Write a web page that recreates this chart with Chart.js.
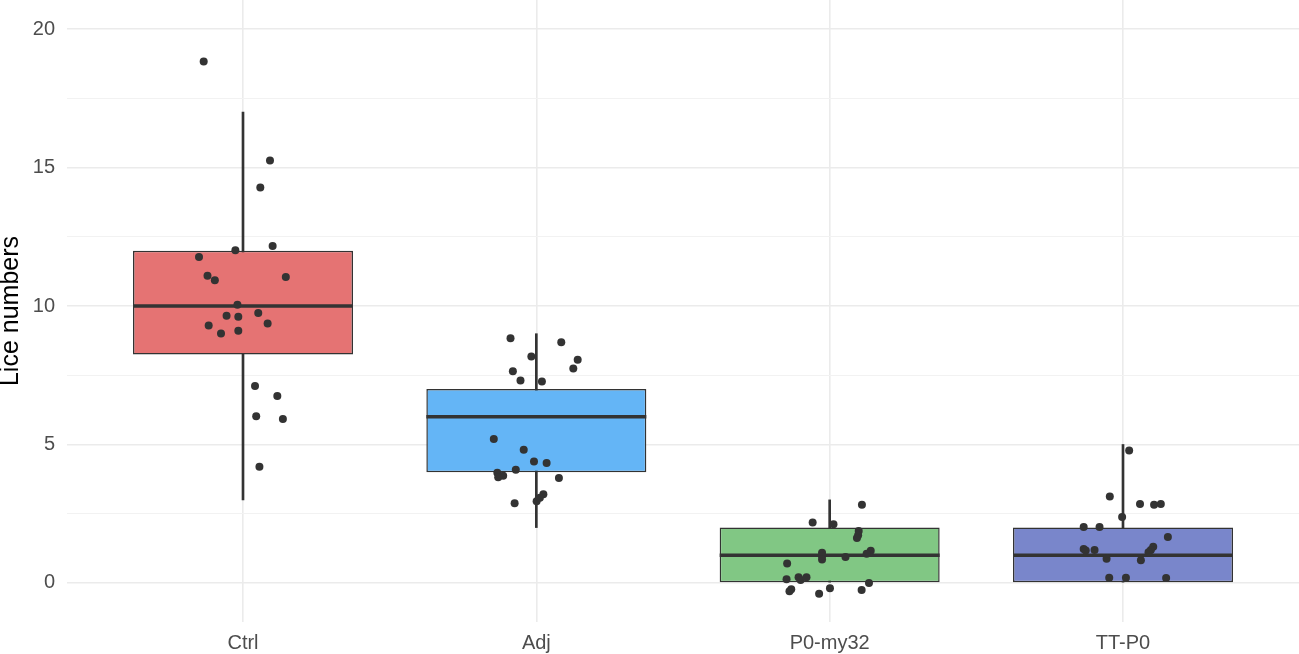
<!DOCTYPE html>
<html>
<head>
<meta charset="utf-8">
<script src="https://cdn.jsdelivr.net/npm/chart.js@4.4.1/dist/chart.umd.min.js"></script>
<style>
  html, body { margin: 0; padding: 0; background: #ffffff; }
  #wrap { width: 1299px; height: 654px; }
</style>
</head>
<body>
<div id="wrap"><canvas id="c" width="1299" height="654"></canvas></div>
<script>
// ---- Data ----
const categories = ['Ctrl', 'Adj', 'P0-my32', 'TT-P0'];
const whiskerLow = [3, 2, 0, 0];
const q1 = [8.25, 4, 0, 0];
const medians = [10, 6, 1, 1];
const q3 = [12, 7, 2, 2];
const whiskerHigh = [17, 9, 3, 5];
const boxColors = ['#E57373', '#64B5F6', '#81C784', '#7986CB'];
const yTickValues = [0, 2.5, 5, 7.5, 10, 12.5, 15, 17.5, 20];
const yTickLabels = ['0', '', '5', '', '10', '', '15', '', '20'];

// jittered observations: values and horizontal jitter offsets
const ctrlValues = [18.83, 15.25, 14.28, 12.17, 12.01, 11.77, 11.09, 10.93, 11.05, 10.05, 9.65, 9.61, 9.75, 9.30, 9.37, 9.01, 9.11, 7.11, 6.75, 6.02, 5.92, 4.20];
const ctrlJitter = [-0.134, 0.092, 0.059, 0.101, -0.026, -0.150, -0.121, -0.096, 0.146, -0.019, -0.056, -0.016, 0.052, -0.117, 0.084, -0.075, -0.016, 0.041, 0.117, 0.045, 0.136, 0.056];
const adjValues = [8.84, 8.69, 8.18, 8.06, 7.74, 7.64, 7.31, 7.27, 5.20, 4.81, 4.39, 4.33, 4.09, 3.98, 3.87, 3.82, 3.79, 3.20, 2.95, 3.08, 2.88];
const adjJitter = [-0.088, 0.085, -0.017, 0.141, 0.126, -0.080, -0.054, 0.019, -0.145, -0.043, -0.008, 0.035, -0.070, -0.133, -0.113, -0.130, 0.077, 0.024, 0.001, 0.012, -0.074];
const p0Values = [2.82, 2.18, 2.12, 1.88, 1.72, 1.62, 1.09, 0.97, 0.85, 0.94, 1.16, 1.05, 0.70, 0.13, 0.21, 0.11, 0.21, 0.00, -0.23, -0.30, -0.19, -0.39, -0.25];
const p0Jitter = [0.110, -0.058, 0.013, 0.099, 0.097, 0.093, -0.026, -0.026, -0.026, 0.054, 0.140, 0.126, -0.145, -0.147, -0.106, -0.099, -0.079, 0.134, -0.131, -0.137, 0.001, -0.036, 0.109];
const ttValues = [4.78, 3.12, 2.85, 2.82, 2.85, 2.38, 2.02, 2.02, 1.66, 1.23, 1.17, 1.19, 1.31, 1.19, 1.11, 0.87, 0.82, 0.19, 0.19, 0.18];
const ttJitter = [0.021, -0.045, 0.058, 0.106, 0.129, -0.003, -0.134, -0.080, 0.153, -0.134, -0.127, -0.097, 0.103, 0.095, 0.087, -0.056, 0.061, -0.047, 0.010, 0.147];

const groupValues = [ctrlValues, adjValues, p0Values, ttValues];
const groupJitter = [ctrlJitter, adjJitter, p0Jitter, ttJitter];

// ---- Build datasets ----
const BOX_WIDTH = 0.75;
const whiskerData = categories.map((c, i) => ({ x: i + 1, y: [whiskerLow[i], whiskerHigh[i]] }));
const boxData = categories.map((c, i) => ({ x: i + 1, y: [q1[i], q3[i]] }));
const medianData = [];
categories.forEach((c, i) => {
  medianData.push({ x: i + 1 - BOX_WIDTH / 2, y: medians[i] });
  medianData.push({ x: i + 1 + BOX_WIDTH / 2, y: medians[i] });
  medianData.push({ x: i + 1.5, y: null });
});
const pointData = [];
groupValues.forEach((vals, i) => {
  vals.forEach((v, k) => pointData.push({ x: i + 1 + groupJitter[i][k], y: v }));
});

const FONT = "'Liberation Sans', Arial, Helvetica, sans-serif";

function noPad(s) { s.paddingTop = 0; s.paddingBottom = 0; s.paddingLeft = 0; s.paddingRight = 0; }

new Chart(document.getElementById('c'), {
  type: 'bar',
  data: {
    datasets: [
      {
        type: 'bar', data: whiskerData, grouped: false, order: 4,
        barThickness: 2, backgroundColor: '#333333', borderWidth: 0
      },
      {
        type: 'bar', data: boxData, grouped: false, order: 3,
        barPercentage: BOX_WIDTH, categoryPercentage: 1,
        backgroundColor: boxColors, borderColor: '#333333', borderWidth: 1.5,
        borderSkipped: false
      },
      {
        type: 'line', data: medianData, order: 2,
        borderColor: '#333333', borderWidth: 3.5, pointRadius: 0, spanGaps: false,
        borderCapStyle: 'butt'
      },
      {
        type: 'scatter', data: pointData, order: 1,
        backgroundColor: '#333333', borderWidth: 0, pointRadius: 4
      }
    ]
  },
  options: {
    responsive: false,
    animation: false,
    devicePixelRatio: 1,
    layout: { padding: 0, autoPadding: false },
    plugins: { legend: { display: false }, tooltip: { enabled: false } },
    scales: {
      x: {
        type: 'linear', min: 0.4, max: 4.6, offset: false,
        afterBuildTicks: (s) => { s.ticks = categories.map((c, i) => ({ value: i + 1 })); },
        afterFit: (s) => { s.height = 32; noPad(s); },
        border: { display: false },
        grid: { color: '#ebebeb', lineWidth: 1.6, drawTicks: false, offset: false },
        ticks: {
          padding: 9,
          color: '#4d4d4d',
          font: { family: FONT, size: 20 },
          callback: (v) => categories[Math.round(v) - 1] || ''
        }
      },
      y: {
        type: 'linear', min: -1.41, max: 21.05,
        afterBuildTicks: (s) => { s.ticks = yTickValues.map(v => ({ value: v })); },
        afterFit: (s) => { s.width = 67; noPad(s); },
        border: { display: false },
        grid: {
          drawTicks: false,
          color: (ctx) => (ctx.tick && ctx.tick.value % 5 === 0) ? '#ebebeb' : '#f2f2f2',
          lineWidth: (ctx) => (ctx.tick && ctx.tick.value % 5 === 0) ? 1.6 : 1
        },
        ticks: {
          padding: 12,
          color: '#4d4d4d',
          font: { family: FONT, size: 20 },
          callback: (v) => { const k = yTickValues.indexOf(v); return k >= 0 ? yTickLabels[k] : ''; }
        },
        title: {
          display: true, text: 'Lice numbers', color: '#000000',
          font: { family: FONT, size: 25, lineHeight: 0.9 },
          padding: 0
        }
      }
    }
  }
});
</script>
</body>
</html>
